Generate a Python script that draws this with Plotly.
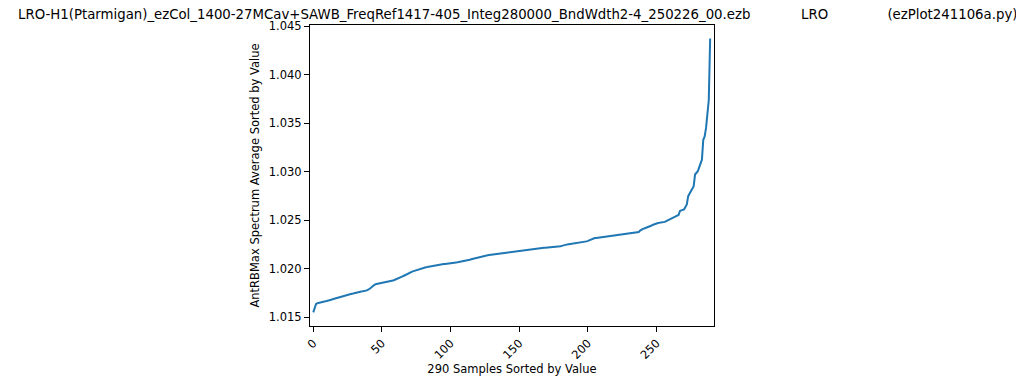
import plotly.graph_objects as go

title_text = ("LRO-H1(Ptarmigan)_ezCol_1400-27MCav+SAWB_FreqRef1417-405_Integ280000_BndWdth2-4_250226_00.ezb"
              "            LRO              (ezPlot241106a.py)")
x_label = "290 Samples Sorted by Value"
y_label = "AntRBMax Spectrum Average Sorted by Value"

values = [
    1.01550, 1.01610, 1.01637, 1.01643, 1.01648, 1.01654, 1.01656, 1.01659, 1.01662, 1.01665,
    1.01667, 1.01671, 1.01675, 1.01679, 1.01684, 1.01688, 1.01693, 1.01699, 1.01705, 1.01712,
    1.01716, 1.01720, 1.01724, 1.01728, 1.01732, 1.01734, 1.01736, 1.01738, 1.01741, 1.01743,
    1.01747, 1.01752, 1.01758, 1.01763, 1.01764, 1.01765, 1.01767, 1.01768, 1.01770, 1.01776,
    1.01783, 1.01790, 1.01803, 1.01816, 1.01828, 1.01838, 1.01841, 1.01844, 1.01847, 1.01850,
    1.01852, 1.01854, 1.01856, 1.01859, 1.01862, 1.01864, 1.01866, 1.01871, 1.01877, 1.01883,
    1.01888, 1.01893, 1.01900, 1.01906, 1.01913, 1.01920, 1.01927, 1.01935, 1.01944, 1.01952,
    1.01961, 1.01966, 1.01970, 1.01975, 1.01980, 1.01985, 1.01990, 1.01995, 1.02000, 1.02004,
    1.02009, 1.02012, 1.02015, 1.02017, 1.02020, 1.02023, 1.02026, 1.02030, 1.02033, 1.02037,
    1.02040, 1.02041, 1.02043, 1.02044, 1.02046, 1.02047, 1.02049, 1.02050, 1.02052, 1.02054,
    1.02055, 1.02057, 1.02059, 1.02061, 1.02064, 1.02066, 1.02068, 1.02071, 1.02073, 1.02076,
    1.02079, 1.02082, 1.02085, 1.02088, 1.02092, 1.02096, 1.02100, 1.02104, 1.02108, 1.02112,
    1.02116, 1.02120, 1.02124, 1.02128, 1.02132, 1.02134, 1.02136, 1.02138, 1.02140, 1.02142,
    1.02143, 1.02145, 1.02147, 1.02150, 1.02152, 1.02154, 1.02156, 1.02158, 1.02160, 1.02161,
    1.02163, 1.02164, 1.02166, 1.02168, 1.02169, 1.02171, 1.02172, 1.02174, 1.02175, 1.02177,
    1.02179, 1.02181, 1.02183, 1.02186, 1.02188, 1.02190, 1.02192, 1.02194, 1.02196, 1.02198,
    1.02199, 1.02201, 1.02203, 1.02205, 1.02207, 1.02209, 1.02211, 1.02214, 1.02215, 1.02216,
    1.02217, 1.02218, 1.02219, 1.02221, 1.02222, 1.02224, 1.02225, 1.02227, 1.02228, 1.02229,
    1.02231, 1.02235, 1.02240, 1.02244, 1.02248, 1.02250, 1.02252, 1.02254, 1.02256, 1.02257,
    1.02259, 1.02261, 1.02263, 1.02265, 1.02267, 1.02269, 1.02270, 1.02272, 1.02276, 1.02281,
    1.02286, 1.02293, 1.02300, 1.02307, 1.02313, 1.02315, 1.02317, 1.02319, 1.02322, 1.02324,
    1.02326, 1.02328, 1.02330, 1.02331, 1.02333, 1.02334, 1.02335, 1.02336, 1.02337, 1.02339,
    1.02340, 1.02341, 1.02344, 1.02346, 1.02349, 1.02351, 1.02354, 1.02357, 1.02359, 1.02362,
    1.02364, 1.02366, 1.02368, 1.02370, 1.02372, 1.02374, 1.02376, 1.02378, 1.02392, 1.02406,
    1.02410, 1.02414, 1.02418, 1.02422, 1.02426, 1.02434, 1.02442, 1.02450, 1.02457, 1.02462,
    1.02467, 1.02471, 1.02472, 1.02473, 1.02473, 1.02474, 1.02482, 1.02490, 1.02498, 1.02505,
    1.02511, 1.02518, 1.02525, 1.02532, 1.02539, 1.02546, 1.02553, 1.02594, 1.02600, 1.02605,
    1.02611, 1.02636, 1.02662, 1.02747, 1.02773, 1.02799, 1.02825, 1.02850, 1.02970, 1.02987,
    1.03004, 1.03044, 1.03083, 1.03123, 1.03328, 1.03363, 1.03450, 1.03568, 1.03738, 1.04371,
]
samples = list(range(len(values)))

x_ticks = [0, 50, 100, 150, 200, 250]
y_ticks = [1.015, 1.020, 1.025, 1.030, 1.035, 1.040, 1.045]
y_tick_labels = ["1.015", "1.020", "1.025", "1.030", "1.035", "1.040", "1.045"]

FONT = "DejaVu Sans"

fig = go.Figure()
fig.add_trace(go.Scatter(x=samples, y=values, mode="lines",
                         line=dict(color="#1f77b4", width=2), showlegend=False))

axis_common = dict(showline=True, linecolor="black", linewidth=1, mirror=True,
                   ticks="outside", ticklen=5, tickwidth=1, tickcolor="black",
                   showgrid=False, zeroline=False, automargin=False,
                   tickfont=dict(family=FONT, size=11.5, color="black"))

fig.update_xaxes(range=[-2.4, 291.8], tickvals=x_ticks, tickangle=-45,
                 title=dict(text=x_label, font=dict(family=FONT, size=11.5, color="black"), standoff=4),
                 **axis_common)
fig.update_yaxes(range=[1.01409, 1.04511], tickvals=y_ticks, ticktext=y_tick_labels,
                 title=dict(text=y_label, font=dict(family=FONT, size=11.5, color="black"), standoff=6),
                 **axis_common)

# the page body has an 8px margin, so the figure is 8px smaller and offset
fig.update_layout(
    width=1016, height=374,
    margin=dict(l=302, r=310, t=17, b=56, autoexpand=False),
    paper_bgcolor="white", plot_bgcolor="white",
    font=dict(family=FONT, color="black"),
    title=dict(text=title_text, xref="container", x=10 / 1016, xanchor="left",
               y=1 - 6 / 374, yanchor="middle",
               automargin=False, font=dict(family=FONT, size=13.3, color="black")),
)

fig.write_html("out.html", config={"displayModeBar": False})
